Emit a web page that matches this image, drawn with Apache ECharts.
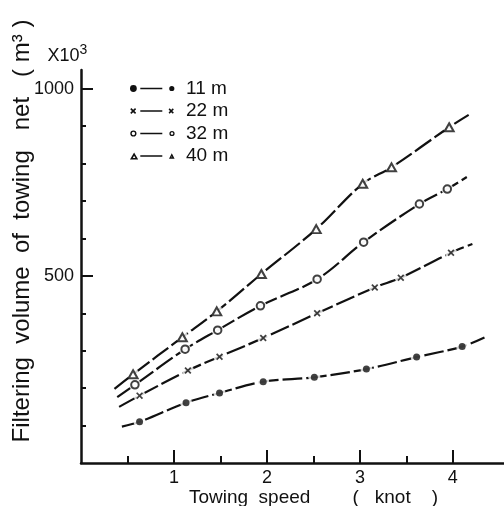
<!DOCTYPE html>
<html>
<head>
<meta charset="utf-8">
<script src="https://cdn.jsdelivr.net/npm/echarts@6/dist/echarts.min.js"></script>
<style>
html,body{margin:0;padding:0;background:#fff;}
#chart{width:504px;height:506px;}
</style>
</head>
<body>
<div id="chart"></div>
<script>
// ---- data ----
const seriesNames = ['11 m', '22 m', '32 m', '40 m'];

const speed11 = [0.63, 1.13, 1.49, 1.96, 2.51, 3.07, 3.61, 4.10];
const volume11 = [110, 161, 187, 217, 229, 251, 283, 311];
const speed22 = [0.63, 1.15, 1.49, 1.96, 2.54, 3.16, 3.44, 3.98];
const volume22 = [180, 247, 284, 334, 400, 469, 495, 562];
const speed32 = [0.58, 1.12, 1.47, 1.93, 2.54, 3.04, 3.64, 3.94];
const volume32 = [209, 304, 355, 420, 491, 590, 692, 732];
const speed40 = [0.56, 1.09, 1.46, 1.94, 2.53, 3.03, 3.34, 3.96];
const volume40 = [237, 336, 405, 505, 625, 746, 790, 897];

// where each drawn curve begins and ends (beyond the measured points)
const curveStartSpeed = [0.44, 0.41, 0.39, 0.36];
const curveStartVolume = [97, 150, 176, 198];
const curveEndSpeed = [4.34, 4.21, 4.15, 4.17];
const curveEndVolume = [335, 585, 764, 930];

const xMajorTicks = [1, 2, 3, 4];
const xMinorTicks = [0.5, 1.5, 2.5, 3.5];
const yMajorTicks = [500, 1000];
const yMinorTicks = [100, 200, 300, 400, 600, 700, 800, 900];

// ---- shapes (style only) ----
const INK = '#111';
const FONT = 'Liberation Sans';
function disc(cx, cy, r) { return `M${cx - r},${cy} A${r},${r} 0 1,0 ${cx + r},${cy} A${r},${r} 0 1,0 ${cx - r},${cy} Z `; }
function discRev(cx, cy, r) { return `M${cx - r},${cy} A${r},${r} 0 1,1 ${cx + r},${cy} A${r},${r} 0 1,1 ${cx - r},${cy} Z `; }
function ring(cx, cy, r, t) { return disc(cx, cy, r) + discRev(cx, cy, r - t); }
function bar(x1, x2, cy, t) { return `M${x1},${cy - t / 2} L${x2},${cy - t / 2} L${x2},${cy + t / 2} L${x1},${cy + t / 2} Z `; }
function cross(cx, cy, h, t) {
  const a = t / (2 * Math.SQRT2);
  const p = [[-h + a, -h - a], [h + a, h - a], [h - a, h + a], [-h - a, -h + a]];
  const q = [[-h - a, h - a], [h - a, -h - a], [h + a, -h + a], [-h + a, h + a]];
  const f = pts => 'M' + pts.map(v => `${cx + v[0]},${cy + v[1]}`).join(' L') + ' Z ';
  return f(p) + f(q);
}
function tri(cx, cy, w, h, t) {
  const P = [[cx - w / 2, cy + h / 2], [cx, cy - h / 2], [cx + w / 2, cy + h / 2]];
  const side = Math.sqrt((w / 2) * (w / 2) + h * h);
  const r = (w * h) / (w + 2 * side);
  const ix = cx, iy = cy + h / 2 - r;
  const k = Math.max(0.05, (r - t) / r);
  const Q = P.map(v => [ix + (v[0] - ix) * k, iy + (v[1] - iy) * k]).reverse();
  const f = pts => 'M' + pts.map(v => `${v[0]},${v[1]}`).join(' L') + ' Z ';
  return f(P) + f(Q);
}
const BOX = 'M0,0 M51,10 ';
const legendIcons = [
  'path://' + BOX + disc(3.4, 5, 3.4) + bar(10.3, 32.3, 5, 1.7) + disc(41.8, 5, 2.6),
  'path://' + BOX + cross(3.2, 5, 2.4, 1.6) + bar(10.3, 32.3, 5, 1.7) + cross(41.2, 5, 2.1, 1.5),
  'path://' + BOX + ring(3.4, 5, 3.1, 1.4) + bar(10.3, 32.3, 5, 1.7) + ring(42, 5, 2.6, 1.3),
  'path://' + BOX + tri(4.1, 5, 8.2, 7, 1.6) + bar(10.3, 32.3, 5, 1.7) + tri(41.8, 5, 5.6, 5.4, 1.4)
];
const markerSymbols = ['circle', 'path://' + cross(5, 5, 4, 2.4), 'emptyCircle', 'emptyTriangle'];
const markerSizes = [7, 7, 7.5, [9, 8]];

const speeds = [speed11, speed22, speed32, speed40];
const volumes = [volume11, volume22, volume32, volume40];

const series = [];
seriesNames.forEach((name, i) => {
  const pts = speeds[i].map((x, j) => [x, volumes[i][j]]);
  const curve = [[curveStartSpeed[i], curveStartVolume[i]]].concat(pts, [[curveEndSpeed[i], curveEndVolume[i]]]);
  series.push({
    name: name, type: 'line', data: curve, smooth: 0.35, showSymbol: false, z: 2,
    lineStyle: { color: INK, width: 2.2, type: [20, 4] }, itemStyle: { color: INK }, silent: true
  });
  series.push({
    type: 'scatter', data: pts, symbol: 'circle', symbolSize: 12, z: 3, silent: true,
    itemStyle: { color: '#fff' }
  });
  series.push({
    type: 'scatter', data: pts, symbol: markerSymbols[i], symbolSize: markerSizes[i], z: 4, silent: true,
    itemStyle: { color: INK, borderColor: INK, borderWidth: i >= 2 ? 1.9 : 0 }
  });
});

const plain = v => String(v);

const chart = echarts.init(document.getElementById('chart'), null, { renderer: 'canvas' });
chart.setOption({
  animation: false,
  backgroundColor: '#fff',
  grid: { left: 81, right: 0, top: 70, bottom: 43, containLabel: false, outerBoundsMode: 'none' },
  legend: {
    data: seriesNames.map((n, i) => ({ name: n, icon: legendIcons[i] })),
    orient: 'vertical', left: 130, top: 79, padding: 0, itemWidth: 51, itemHeight: 10, itemGap: 3.5,
    selectedMode: false,
    itemStyle: { color: INK, borderWidth: 0 },
    textStyle: { fontFamily: FONT, fontSize: 19, color: INK }
  },
  xAxis: [
    {
      type: 'value', min: 0, max: 4.55, position: 'bottom',
      axisLine: { show: true, lineStyle: { color: INK, width: 2.5 } },
      axisTick: { show: true, inside: true, length: 7, customValues: xMinorTicks, lineStyle: { color: INK, width: 2 } },
      axisLabel: { show: false }, splitLine: { show: false },
      name: 'Towing  speed        (   knot    )', nameLocation: 'middle', nameGap: 25,
      nameTextStyle: { fontFamily: FONT, fontSize: 19, color: INK, padding: [0, 0, 0, 42] }
    },
    {
      type: 'value', min: 0, max: 4.55, position: 'bottom',
      axisLine: { show: false },
      axisTick: { show: true, inside: true, length: 13, customValues: xMajorTicks, lineStyle: { color: INK, width: 2 } },
      axisLabel: { show: true, customValues: xMajorTicks, formatter: plain, margin: 6, fontFamily: FONT, fontSize: 18, color: INK },
      splitLine: { show: false }
    }
  ],
  yAxis: [
    {
      type: 'value', min: 0, max: 1050, position: 'left',
      axisLine: { show: true, lineStyle: { color: INK, width: 2.5 } },
      axisTick: { show: true, inside: true, length: 5, customValues: yMinorTicks, lineStyle: { color: INK, width: 2 } },
      axisLabel: { show: false }, splitLine: { show: false },
      name: '{a|X10}{b|3}', nameLocation: 'end', nameGap: 5,
      nameTextStyle: {
        fontFamily: FONT, color: INK, padding: [0, 27, 0, 0],
        rich: {
          a: { fontFamily: FONT, fontSize: 18, lineHeight: 22, verticalAlign: 'bottom', color: INK },
          b: { fontFamily: FONT, fontSize: 14, lineHeight: 14, verticalAlign: 'top', color: INK }
        }
      }
    },
    {
      type: 'value', min: 0, max: 1050, position: 'left',
      axisLine: { show: false },
      axisTick: { show: true, inside: true, length: 12, customValues: yMajorTicks, lineStyle: { color: INK, width: 2 } },
      axisLabel: { show: true, customValues: yMajorTicks, formatter: plain, margin: 7, fontFamily: FONT, fontSize: 18, color: INK },
      splitLine: { show: false }
    }
  ],
  graphic: [{
    type: 'text', x: 22, y: 231, rotation: Math.PI / 2, silent: true,
    style: {
      text: 'Filtering  volume  of  towing   net   ( m³ )',
      fill: INK, font: '24px "Liberation Sans"', textAlign: 'center', textVerticalAlign: 'middle'
    }
  }],
  series: series
});
</script>
</body>
</html>
